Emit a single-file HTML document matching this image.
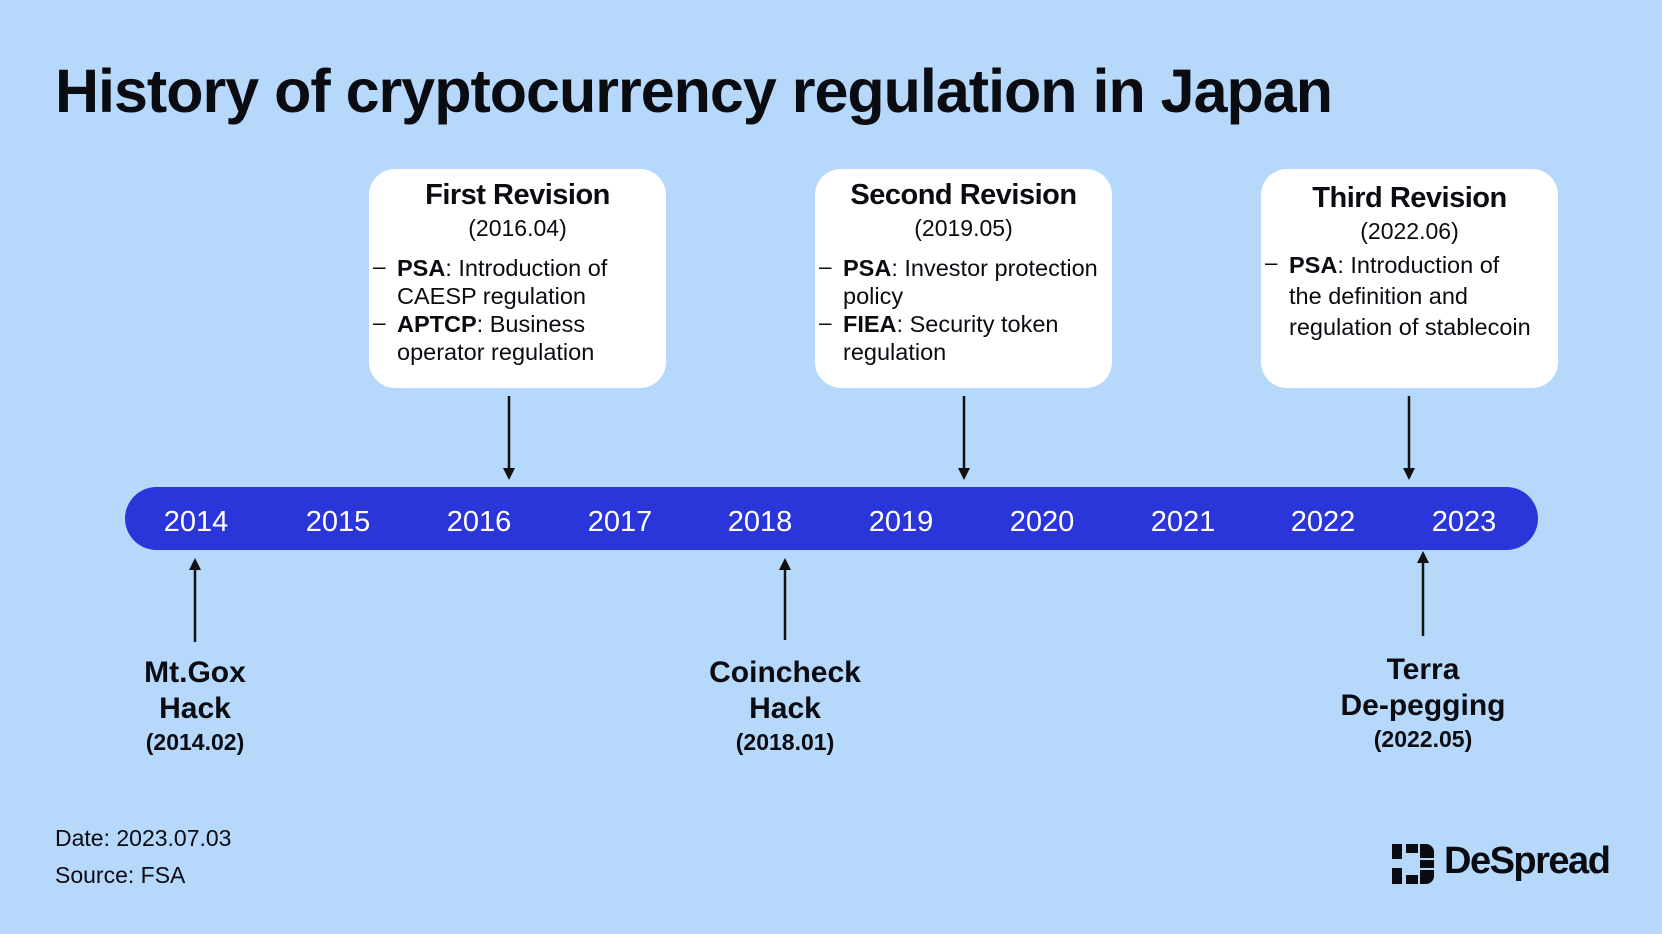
<!DOCTYPE html>
<html><head><meta charset="utf-8"><style>
body{margin:0;width:1662px;height:934px;background:#b6d8fb;font-family:"Liberation Sans",sans-serif;position:relative;overflow:hidden;color:#0b0b12}
.a{position:absolute;white-space:nowrap}
.box{position:absolute;background:#fff;border-radius:26px;top:169px;height:219px;width:297px}
.t{position:absolute;left:0;right:0;text-align:center;font-weight:bold;font-size:29px;letter-spacing:-0.5px}
.d{position:absolute;left:0;right:0;text-align:center;font-size:23px}
.l{position:absolute;left:28px;font-size:23.5px;line-height:28px;white-space:nowrap}
.dash{position:absolute;left:4px;font-size:22.5px}
.yr{position:absolute;top:506px;color:#fff;font-size:29px;width:100px;text-align:center}
.ev{position:absolute;text-align:center;font-weight:bold;width:240px;font-size:30px;line-height:36px}
</style></head><body>
<div class="a" style="left:55px;top:56px;font-size:61px;font-weight:bold;letter-spacing:-1px">History of cryptocurrency regulation in Japan</div>

<div class="box" style="left:369px">
 <div class="t" style="top:10px">First Revision</div>
 <div class="d" style="top:46px">(2016.04)</div>
 <div class="dash" style="top:85px">–</div><div class="dash" style="top:141px">–</div>
 <div class="l" style="top:85px"><b>PSA</b>: Introduction of<br>CAESP regulation<br><b>APTCP</b>: Business<br>operator regulation</div>
</div>
<div class="box" style="left:815px">
 <div class="t" style="top:10px">Second Revision</div>
 <div class="d" style="top:46px">(2019.05)</div>
 <div class="dash" style="top:85px">–</div><div class="dash" style="top:141px">–</div>
 <div class="l" style="top:85px"><b>PSA</b>: Investor protection<br>policy<br><b>FIEA</b>: Security token<br>regulation</div>
</div>
<div class="box" style="left:1261px">
 <div class="t" style="top:13px">Third Revision</div>
 <div class="d" style="top:49px">(2022.06)</div>
 <div class="dash" style="top:81px">–</div>
 <div class="l" style="top:81px;line-height:31px"><b>PSA</b>: Introduction of<br>the definition and<br>regulation of stablecoin</div>
</div>

<div class="a" style="left:125px;top:487px;width:1413px;height:63px;background:#2a36d9;border-radius:32px"></div>
<div class="yr" style="left:146px">2014</div><div class="yr" style="left:288px">2015</div>
<div class="yr" style="left:429px">2016</div><div class="yr" style="left:570px">2017</div>
<div class="yr" style="left:710px">2018</div><div class="yr" style="left:851px">2019</div>
<div class="yr" style="left:992px">2020</div><div class="yr" style="left:1133px">2021</div>
<div class="yr" style="left:1273px">2022</div><div class="yr" style="left:1414px">2023</div>

<svg class="a" style="left:0;top:0" width="1662" height="934">
<g stroke="#111" stroke-width="2.5" fill="#111">
<line x1="509" y1="396" x2="509" y2="470"/><polygon points="503,468 515,468 509,480" stroke="none"/>
<line x1="964" y1="396" x2="964" y2="470"/><polygon points="958,468 970,468 964,480" stroke="none"/>
<line x1="1409" y1="396" x2="1409" y2="470"/><polygon points="1403,468 1415,468 1409,480" stroke="none"/>
<line x1="195" y1="569" x2="195" y2="642"/><polygon points="189,570 201,570 195,558" stroke="none"/>
<line x1="785" y1="569" x2="785" y2="640"/><polygon points="779,570 791,570 785,558" stroke="none"/>
<line x1="1423" y1="562" x2="1423" y2="636"/><polygon points="1417,563 1429,563 1423,551" stroke="none"/>
</g></svg>

<div class="ev" style="left:75px;top:655px">Mt.Gox<br>Hack<div style="font-size:23px;line-height:30px">(2014.02)</div></div>
<div class="ev" style="left:665px;top:655px">Coincheck<br>Hack<div style="font-size:23px;line-height:30px">(2018.01)</div></div>
<div class="ev" style="left:1303px;top:652px">Terra<br>De-pegging<div style="font-size:23px;line-height:30px">(2022.05)</div></div>

<div class="a" style="left:55px;top:825px;font-size:23px">Date: 2023.07.03</div>
<div class="a" style="left:55px;top:862px;font-size:23px">Source: FSA</div>

<svg class="a" style="left:1392px;top:844px" width="42" height="40">
<g fill="#0b0b12"><rect x="0" y="0" width="10" height="15"/><rect x="0" y="24" width="10" height="16"/>
<rect x="14" y="0" width="12" height="9"/><rect x="14" y="31" width="12" height="9"/>
<path d="M28 0h6a8 8 0 0 1 8 8v6h-14z"/><path d="M28 16h14v8h-14z"/><path d="M28 26h14v6a8 8 0 0 1-8 8h-6z"/></g></svg>
<div class="a" style="left:1444px;top:840px;font-size:38px;font-weight:bold;letter-spacing:-1.5px">DeSpread</div>
</body></html>
